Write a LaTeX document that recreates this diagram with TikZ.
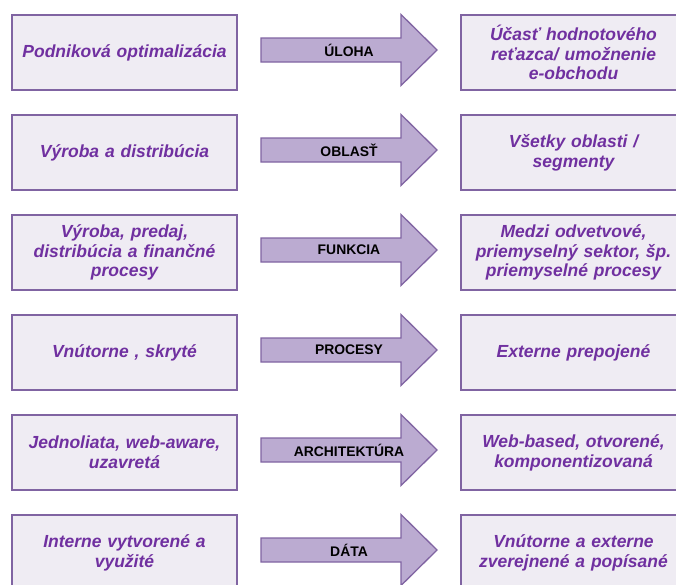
\documentclass[tikz,border=0pt]{standalone}
\usepackage{fontspec}
\setmainfont{Liberation Sans}
\definecolor{edgepurple}{HTML}{8064A2}
\definecolor{boxfill}{HTML}{EFECF3}
\definecolor{arrowfill}{HTML}{BBABD1}
\definecolor{textpurple}{HTML}{7030A0}
\tikzset{
  infobox/.style={draw=edgepurple, line width=2pt, fill=boxfill,
    minimum width=225pt, minimum height=75pt, inner sep=0pt,
    align=center, text width=215pt, text=textpurple,
    font=\fontsize{17.5}{19.8}\selectfont\bfseries\itshape},
  arrowlabel/.style={inner sep=0pt, text=black,
    font=\fontsize{13.9}{15}\selectfont\bfseries},
  arrowbody/.style={draw=edgepurple, line width=1.3pt, fill=arrowfill, line join=miter},
  bigarrow/.pic={
    \path[arrowbody] (-88,-12) -- (52,-12) -- (52,-35.5) -- (88,0)
      -- (52,35.5) -- (52,12) -- (-88,12) -- cycle;
  }
}
\begin{document}
\begin{tikzpicture}[x=1pt, y=-1pt]
\useasboundingbox (0,0) rectangle (676,584);

% left column: current state
\node[infobox] (l1) at (124.5, 52.5) {Podniková optimalizácia};
\node[infobox] (l2) at (124.5,152.5) {Výroba a distribúcia};
\node[infobox] (l3) at (124.5,252.5) {Výroba, predaj,\\distribúcia a finančné\\procesy};
\node[infobox] (l4) at (124.5,352.5) {Vnútorne , skryté};
\node[infobox] (l5) at (124.5,452.5) {Jednoliata, web-aware,\\uzavretá};
\node[infobox] (l6) at (124.5,552.5) {Interne vytvorené a\\využité};

% right column: target state
\node[infobox] (r1) at (573.5, 52.5) {Účasť hodnotového\\reťazca/ umožnenie\\e-obchodu};
\node[infobox] (r2) at (573.5,152.5) {Všetky oblasti /\\segmenty};
\node[infobox] (r3) at (573.5,252.5) {Medzi odvetvové,\\priemyselný sektor, šp.\\priemyselné procesy};
\node[infobox] (r4) at (573.5,352.5) {Externe prepojené};
\node[infobox] (r5) at (573.5,452.5) {Web-based, otvorené,\\komponentizovaná};
\node[infobox] (r6) at (573.5,552.5) {Vnútorne a externe\\zverejnené a popísané};

% block arrows with their dimension labels
\foreach \i/\lab in {1/ÚLOHA, 2/OBLASŤ, 3/FUNKCIA, 4/PROCESY, 5/ARCHITEKTÚRA, 6/DÁTA}{
  \pgfmathsetmacro{\yc}{-50-100*(\i-1)}
  \pic at (349,-\yc) {bigarrow};
  \node[arrowlabel] (a\i) at (349,-\yc) {\lab};
}
\end{tikzpicture}
\end{document}
